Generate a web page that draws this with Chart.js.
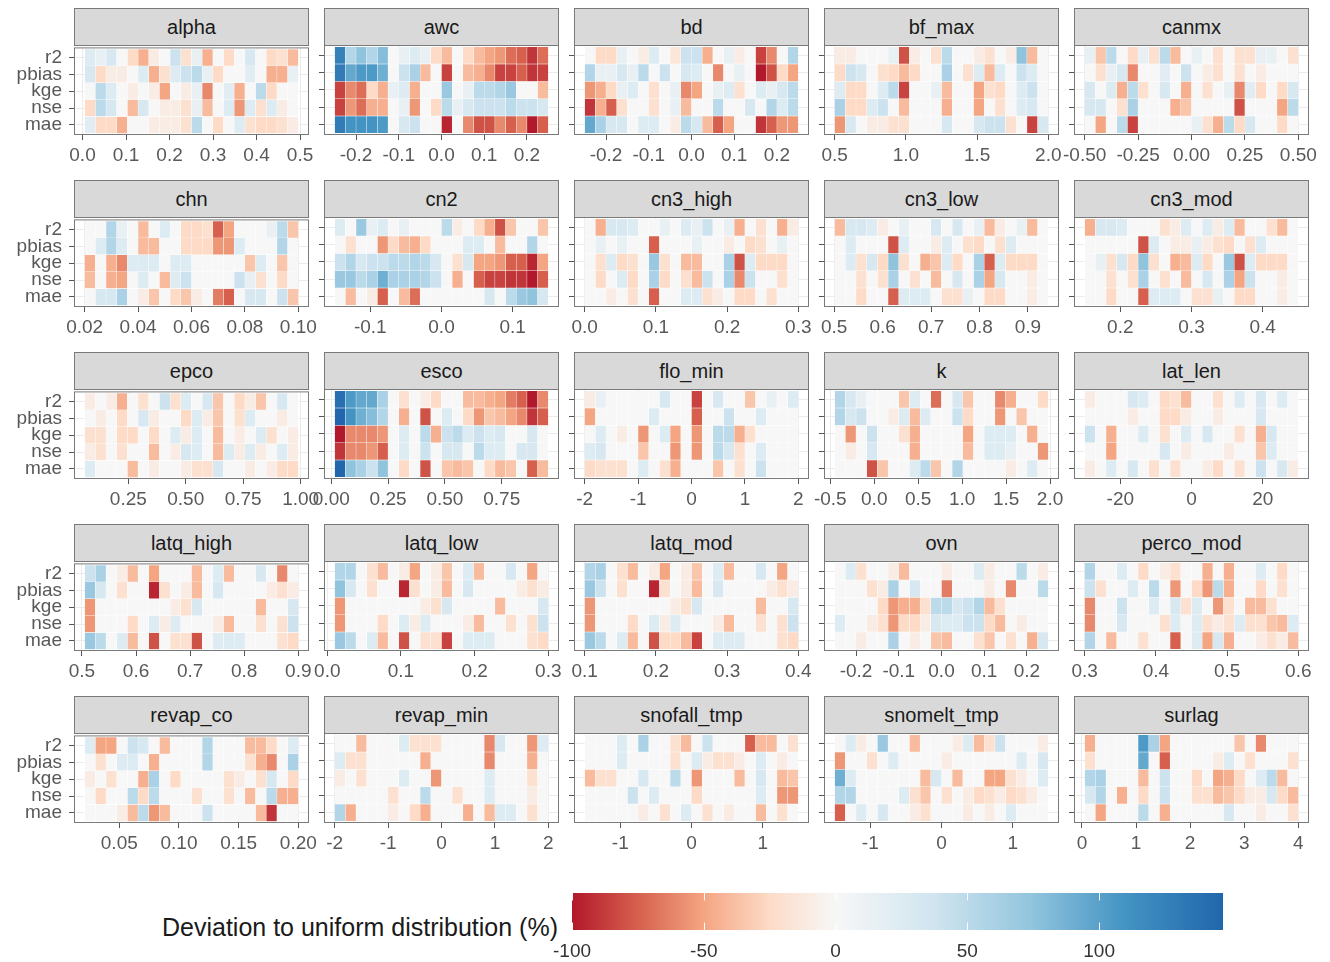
<!DOCTYPE html>
<html>
<head>
<meta charset="utf-8">
<script src="https://cdn.jsdelivr.net/npm/chart.js@4.4.1/dist/chart.umd.min.js"></script>
<style>
  body { margin: 0; background: #fff; }
  #page { position: relative; width: 1330px; height: 962px; font-family: "Liberation Sans", Arial, sans-serif; }
  .strip { position: absolute; box-sizing: border-box; background: #D9D9D9; border: 1px solid #7a7a7a;
           color: #1a1a1a; font-size: 20px; text-align: center; }
  .panel { position: absolute; }
  #legend-title { position: absolute; left: 0; width: 558px; top: 912px; text-align: right;
                  font-size: 25px; line-height: 30px; color: #1a1a1a; }
</style>
</head>
<body>
<div id="page"><div id="legend-title">Deviation to uniform distribution (%)</div></div>
<script>
const metrics = ['r2', 'pbias', 'kge', 'nse', 'mae'];
const params = ['alpha', 'awc', 'bd', 'bf_max', 'canmx', 'chn', 'cn2', 'cn3_high', 'cn3_low', 'cn3_mod',
  'epco', 'esco', 'flo_min', 'k', 'lat_len', 'latq_high', 'latq_low', 'latq_mod', 'ovn', 'perco_mod',
  'revap_co', 'revap_min', 'snofall_tmp', 'snomelt_tmp', 'surlag'];

// sampled range of each parameter (outer edges of the 20 bins)
const binRange = [[0.005, 0.496], [-0.25, 0.25], [-0.25, 0.25], [0.5, 2.0], [-0.5, 0.5],
  [0.02, 0.1], [-0.15, 0.15], [0, 0.3], [0.501, 0.942], [0.15, 0.45],
  [0.06, 0.99], [0.015, 0.955], [-2, 2], [-0.45, 1.98], [-30, 30],
  [0.505, 0.9], [0.01, 0.3], [0.1, 0.4], [-0.25, 0.25], [0.3, 0.6],
  [0.021, 0.2], [-2, 2], [-1.5, 1.5], [-1.5, 1.5], [0.05, 4]];

const tickLabels = [
  ['0.0', '0.1', '0.2', '0.3', '0.4', '0.5'], ['-0.2', '-0.1', '0.0', '0.1', '0.2'], ['-0.2', '-0.1', '0.0', '0.1', '0.2'],
  ['0.5', '1.0', '1.5', '2.0'], ['-0.50', '-0.25', '0.00', '0.25', '0.50'],
  ['0.02', '0.04', '0.06', '0.08', '0.10'], ['-0.1', '0.0', '0.1'], ['0.0', '0.1', '0.2', '0.3'],
  ['0.5', '0.6', '0.7', '0.8', '0.9'], ['0.2', '0.3', '0.4'],
  ['0.25', '0.50', '0.75', '1.00'], ['0.00', '0.25', '0.50', '0.75'], ['-2', '-1', '0', '1', '2'],
  ['-0.5', '0.0', '0.5', '1.0', '1.5', '2.0'], ['-20', '0', '20'],
  ['0.5', '0.6', '0.7', '0.8', '0.9'], ['0.0', '0.1', '0.2', '0.3'], ['0.1', '0.2', '0.3', '0.4'],
  ['-0.2', '-0.1', '0.0', '0.1', '0.2'], ['0.3', '0.4', '0.5', '0.6'],
  ['0.05', '0.10', '0.15', '0.20'], ['-2', '-1', '0', '1', '2'], ['-1', '0', '1'], ['-1', '0', '1'],
  ['0', '1', '2', '3', '4']];

const legendTicks = ['-100', '-50', '0', '50', '100'];
const fillLimits = [-100, 147];

// deviation to uniform distribution (%), rows r2, pbias, kge, nse, mae, 20 bins each
const alpha = [
  [25, 15, 30, 0, -25, -45, -10, 0, 40, -20, 15, -45, 0, -25, 0, 30, 0, -25, -20, -40],
  [30, -25, -10, -10, 0, 25, -45, -20, 25, 40, 50, 15, -25, 0, 0, 20, 0, -45, -45, 15],
  [0, 50, 25, 0, -10, 0, -10, -50, 0, -10, 15, -60, 0, 20, -45, 0, 50, -25, 0, 0],
  [-25, 50, 30, 0, -40, 30, 0, -10, -10, -20, 15, -40, 0, 25, -55, 25, -20, 25, -10, 0],
  [20, -25, -25, -45, 0, 0, -10, -10, -10, -20, 50, 0, -25, 0, 25, -20, -25, -25, -20, -10]];
const awc = [
  [125, 55, 75, 55, 80, 0, 15, 25, 15, -25, -40, 0, -25, -40, -50, -55, -70, -75, -90, -70],
  [130, 95, 105, 105, 90, 0, 40, 60, -40, 0, -85, 0, -40, -45, -60, -85, -85, -75, -90, -85],
  [-85, -60, -70, -25, -45, 15, 25, -45, 0, 0, 70, 0, 15, 50, 50, 55, 70, 0, 0, -40],
  [-85, -55, -70, -45, -45, 0, 15, -55, 0, -25, 50, 15, 30, 40, 40, 40, 50, 40, 40, 30],
  [130, 110, 110, 110, 105, 0, 30, 40, 0, 0, -95, 0, -60, -80, -80, -60, -75, -60, -100, -75]];
const bd = [
  [0, -25, -25, 15, 0, -10, 25, 0, -15, 40, 40, -45, 0, 15, -10, 0, -85, -60, 0, 55],
  [55, 15, 15, 30, 15, 50, 0, 40, 0, 30, 25, 0, -60, 0, 15, 0, -100, -80, -25, -50],
  [-55, -45, -25, 15, 25, 0, -20, 0, 15, -60, -50, 0, 15, 25, -20, 0, 25, 15, 30, 50],
  [-90, -45, -75, -20, 0, 0, -20, 0, 15, -40, 0, 0, 50, 0, 0, 30, 0, 55, 25, 50],
  [95, 60, 30, 30, 0, 25, 25, 0, -10, 50, 30, -40, -75, -50, 0, 0, -90, -75, -55, -55]];
const bf_max = [
  [-10, -10, 0, 0, 0, 15, -80, -10, 0, -20, 50, 0, 0, -10, -20, 0, -10, 75, -40, 0],
  [-25, 40, 30, 0, -20, -25, -40, -25, 0, 0, 60, 0, -20, 25, -40, 25, 0, 40, 25, 0],
  [25, -25, -25, 0, 25, 50, -85, 0, 0, 15, -40, 0, 0, -50, -20, -25, 0, 25, 40, 0],
  [60, -25, -25, 25, 40, 0, -40, 0, 0, 0, -45, 0, 0, -50, 0, -20, 0, 25, 30, 0],
  [-55, 30, 0, -10, -10, -20, -20, 0, 0, 0, 30, 0, 0, 30, 40, 40, -20, 0, -85, 30]];
const canmx = [
  [15, -35, 50, 0, -25, 15, -20, 50, -40, 0, 15, 0, -20, 0, -20, -20, 15, 15, 0, -20],
  [0, -20, 15, 30, -60, 0, 0, 20, 0, 40, 0, -10, -20, 0, -20, 0, -10, 0, 0, 0],
  [30, 0, 25, -45, 50, -20, 0, 30, 0, -45, 0, -20, 0, 15, -60, 20, -25, 0, -25, 30],
  [30, 30, 0, -20, 60, 0, 0, 0, -45, -35, 0, 0, 0, 0, -80, 0, 0, 0, -50, 50],
  [0, -50, 0, 50, -85, 0, 0, 0, 0, 0, 15, -20, -45, 50, -25, 30, 0, 0, -25, 0]];
const chn = [
  [0, 0, 55, 15, 0, -40, 0, 25, 0, -25, -25, -20, -75, -50, 0, 0, 0, 15, 50, -35],
  [0, 25, 55, 25, 0, -40, -40, 0, 0, -25, -25, -25, -55, -55, 25, 0, 0, 0, 55, 0],
  [-45, 0, -45, -60, 25, 25, 25, 0, 25, 25, 0, 0, 0, 0, 0, -35, 25, 0, -35, 0],
  [-40, 0, -45, -50, 0, 25, 0, -40, 25, 40, 0, 0, 0, 0, 40, 15, -20, 0, -25, 0],
  [0, 30, 30, 60, 0, -10, -35, 0, -25, -35, -10, 0, -65, -75, 0, 30, 30, 0, 40, -35]];
const cn2 = [
  [25, 0, 70, 15, 25, 0, 15, 0, 0, 0, 50, -10, 0, -25, -45, -80, -35, 0, 0, -35],
  [0, -20, 0, 0, -55, -25, -40, -45, -25, 0, 0, 0, 25, 25, 0, -40, 0, 0, 55, 0],
  [40, 55, 30, 40, 40, 50, 50, 55, 50, 30, 0, -20, 30, -50, -50, -55, -75, -75, -95, -50],
  [70, 70, 50, 60, 90, 60, 60, 60, 55, 40, 0, -45, 0, -75, -85, -85, -90, -90, -100, -75],
  [0, -40, 0, -10, -75, 0, -40, -70, 0, 0, 0, 0, 0, 0, 30, 0, 50, 70, 75, 30]];
const cn3_high = [
  [0, -45, 30, 30, 25, 0, 0, 15, 0, 25, 15, 40, 0, 15, -45, 0, -20, 0, -45, -10],
  [0, 15, 0, 15, 0, 0, -75, 0, 0, 0, 15, 0, 0, -10, 0, -25, -20, 0, 15, 0],
  [0, -20, 25, -25, -20, 0, 70, -20, 0, -40, -40, 0, 0, 60, -80, 25, -25, -25, -25, 0],
  [0, -25, 0, 25, -25, 0, 60, -25, 0, -20, -40, 40, 0, 60, -60, 40, 0, 0, -20, 0],
  [0, 0, -10, 0, -20, 0, -75, 0, 0, 25, 25, -20, -10, 0, -25, -25, 0, -20, 0, 0]];
const cn3_low = [
  [-40, 30, 30, 25, -10, 0, 15, 0, 0, 30, 0, 30, 0, 15, -40, -10, 0, 15, -40, 0],
  [0, 25, 0, 0, 0, -80, 25, 0, 0, -10, 25, 0, -20, -25, 0, -20, 25, 0, 0, 0],
  [0, 25, -20, 30, -25, 75, -20, 0, -45, -35, 25, -25, 0, 60, -75, 25, -25, -25, -25, 0],
  [0, 0, -20, 0, -20, 60, 0, -20, 0, -40, 0, 30, 0, 60, -50, 30, 0, 0, -10, 0],
  [0, 0, -25, 0, 0, -75, 25, 25, 25, 0, -20, -20, 15, 0, -25, -25, 0, 0, -10, 0]];
const cn3_mod = [
  [-45, 30, 30, 25, 0, 0, 0, -20, -10, 25, 0, 25, -10, 25, -40, 0, 0, -20, -40, 0],
  [0, 0, 0, 0, 0, -80, 25, 0, -10, -10, 15, -10, -20, -25, 0, -20, 25, 0, 0, 0],
  [0, 15, -20, 30, -25, 75, -20, 0, -45, -40, 25, -25, 0, 70, -80, 25, -25, -25, -25, 0],
  [0, 0, -20, 0, -20, 60, 0, -20, 0, -40, 0, 30, 0, 60, -50, 40, 0, 0, -10, 0],
  [0, 0, -25, 0, 0, -75, 25, 25, 25, 0, -20, -20, 15, 0, -25, -25, 0, 0, -10, 0]];
const epco = [
  [-10, 0, -10, -45, 0, -20, 0, 40, -20, 25, 0, 30, -35, 0, -25, -10, -35, 0, 30, 0],
  [0, -10, 0, -25, 0, 30, -10, 0, 0, -25, 25, -10, -35, 0, -20, 25, 0, 0, -10, 0],
  [-20, -20, 0, -25, -25, 0, -25, 0, 25, -10, 25, 0, -40, 0, -10, 0, 25, -20, 0, -10],
  [-10, -20, 0, -20, 0, 0, -40, 0, -10, 30, 25, 0, -40, 25, -10, 25, -10, 0, 25, -10],
  [25, 0, 0, 0, -40, 0, -10, 0, 0, -10, -20, -20, 30, 0, 0, -10, 0, -10, -25, -25]];
const esco = [
  [140, 105, 95, 95, 60, 0, -20, 0, -10, -25, 0, 0, -40, -40, -45, -50, -65, -75, -100, -60],
  [147, 110, 90, 80, 55, 0, -45, 0, -80, 0, 25, 0, -25, -55, -35, -40, -50, -60, -90, -75],
  [-100, -60, -60, -60, -55, 0, 25, 0, 50, -45, 40, 50, 25, 40, 25, 30, 0, 0, 30, 0],
  [-90, -60, -60, -55, -75, 0, 25, 0, 40, 0, 30, 30, 0, 50, 25, 25, 0, 30, 30, 0],
  [147, 75, 60, 40, 75, 0, -25, 0, -80, 0, -35, -40, -35, 0, -25, -40, -35, 0, -75, -40]];
const flo_min = [
  [-10, 15, 0, 0, 0, 0, 0, 30, 0, 0, -85, 0, 30, 0, 0, -35, 0, 15, 0, 25],
  [-50, 0, 0, 0, 0, 0, 25, 0, 0, 0, -75, 0, 0, 40, 0, 0, 25, 0, 0, 0],
  [0, 25, 0, -10, 0, -55, 0, 25, -50, 0, -55, 0, 50, 50, -45, -20, 0, 0, 0, 0],
  [25, 30, 0, 0, 0, -35, 0, 0, -55, 0, -55, 0, 50, 30, -20, 0, 25, 0, 0, 0],
  [-25, -20, -20, -20, 0, 25, 0, -20, -45, 0, 0, 0, -35, 0, -20, 0, 40, 0, 0, 0]];
const k = [
  [55, 30, 15, 0, 0, 0, -35, 25, 0, -70, 0, 30, -35, 0, 0, -60, -45, 0, 0, -25],
  [55, 30, 40, 0, 0, -10, 25, -40, 25, 0, 0, 40, -25, 0, 0, -55, 0, -35, 0, 0],
  [0, -55, 0, 40, 0, 0, -20, -45, 0, 0, 0, 0, -50, 0, 25, 25, 25, 0, -45, 0],
  [0, -10, 0, 30, 0, 0, 0, -45, 0, 0, 0, 0, -40, 0, 25, 25, 15, 0, 0, -55],
  [0, 0, 0, -80, -35, 0, 0, 25, 50, -35, 0, 55, 0, 0, 0, 0, -10, 0, 25, 0]];
const lat_len = [
  [-10, 0, 0, 0, 30, 25, 0, -25, -20, -40, 0, 0, -20, 0, 25, 0, 30, 0, 25, 0],
  [0, 0, 0, 0, -10, 0, 0, -25, -25, -10, 0, 0, -10, 0, 0, 0, 30, 0, 0, 0],
  [40, 0, -45, 0, 0, 25, 0, -20, 0, 25, 0, 30, 0, 0, -20, 0, -45, 30, 0, 0],
  [0, 0, -50, 0, 0, 0, 0, 30, 0, -10, 0, 0, 0, -10, 0, 0, -35, 25, 0, 0],
  [-10, 0, 25, 0, 30, 0, -20, 0, -20, 0, 0, -10, -25, 0, -20, 0, 40, 0, 30, -10]];
const latq_high = [
  [40, 60, 0, -10, -40, 0, -50, 0, 0, 0, -40, 0, 25, -40, 0, 0, 30, 0, -60, 0],
  [70, 30, 0, -20, 0, 0, -95, -20, 0, -10, -40, 0, 30, 0, 0, 0, 0, -10, -20, -10],
  [-55, 0, 0, 0, 0, 0, 0, 0, -10, -20, 30, 0, 0, 0, 0, 0, -40, 0, 0, 30],
  [-55, 0, 0, 0, -25, 0, 25, -10, 25, 0, 0, 0, -10, -40, 0, 0, -20, 0, -20, 40],
  [70, 50, 0, 25, -40, 0, -80, 0, -20, -20, -80, 0, 25, 25, 25, 0, 0, 0, -20, -25]];
const latq_low = [
  [55, 55, 0, -20, -40, 0, -10, -50, 0, -10, -35, 0, 25, -40, 0, 0, 30, 0, -50, 0],
  [75, 30, 0, -20, 0, 0, -95, -20, 0, -10, -40, 0, 30, 0, 0, 0, 0, -10, -20, -10],
  [-55, 0, 0, 0, 0, 0, 0, 0, -10, -20, 30, 0, 0, 0, 0, -40, 0, 0, 0, 30],
  [-55, 0, 0, 0, -25, 0, 25, -10, 25, 0, 0, 0, -10, -40, 0, 0, -20, 0, -20, 40],
  [70, 50, 0, 25, -40, 0, -80, 0, -20, -20, -85, 0, 25, 25, 25, 0, 0, 0, -20, -25]];
const latq_mod = [
  [55, 60, 0, -20, -40, 0, -10, -50, 0, -10, -35, 0, 25, -40, 0, 0, 30, 0, -50, 0],
  [70, 40, 0, -20, 0, 0, -95, -20, 0, -10, -40, 0, 30, 0, 0, 0, 0, -10, -20, -10],
  [-55, 0, 0, 0, 0, 0, 0, 0, -10, -20, 30, 0, 0, 0, 0, 0, -40, 0, 0, 30],
  [-55, 0, 0, 0, -25, 0, 25, -10, 25, 0, 0, 0, -10, -40, 0, 0, -20, 0, -20, 40],
  [70, 50, 0, 25, -40, 0, -80, -25, -25, -40, -85, 0, 25, 25, 25, 0, 0, 0, -20, -25]];
const ovn = [
  [0, 25, -20, 0, 0, -10, -40, 0, 0, 0, -10, 0, 0, 25, -10, 0, 0, 50, 0, -10],
  [0, 0, 0, -20, -10, 60, 0, 30, 0, 0, -65, 0, 0, 0, -10, 0, -60, 0, 0, 50],
  [0, 0, 0, 0, -25, -55, -45, -45, -20, 50, 50, 30, 40, 55, -40, -20, 0, 0, 0, 0],
  [25, 0, 0, -10, -20, -55, -25, -25, -10, 30, 25, 25, 40, 40, -25, -40, 0, -10, 0, 0],
  [0, 0, -10, 0, 0, 60, 0, -10, 0, -35, -40, 0, 0, -20, -35, 0, -20, 0, -45, 30]];
const perco_mod = [
  [55, 0, 0, 25, 0, -25, 0, -10, -20, 0, 0, -45, 0, -45, 0, 0, 25, 0, -25, 0],
  [40, -20, 0, 0, 25, 0, 50, 0, -55, 0, -25, -55, 50, -45, 0, 0, -25, 0, -20, 0],
  [-60, 0, 0, 40, 0, 0, 25, 0, 30, -20, 25, 0, -55, -20, 0, -40, -40, -20, 0, 0],
  [-60, 0, 0, 30, 0, 0, 0, -20, 25, 0, 25, -20, -10, -20, 25, -20, -20, -35, -40, 25],
  [55, 0, -40, 0, 0, -20, 0, 0, -75, 0, 25, -50, 30, -45, 0, 0, -10, -20, -10, -40]];
const revap_co = [
  [25, -50, -50, 0, 40, 30, 0, -40, 0, 0, 0, 55, 0, 0, 0, -40, -40, -25, 0, 25],
  [0, -20, 0, 25, 25, 0, -45, 0, 0, 0, 0, 55, 0, 0, 0, -20, -45, -60, 0, 60],
  [-10, 0, -20, 0, 0, -45, 60, 0, -25, 0, 0, 0, 0, -20, -10, 0, -20, 30, 0, -25],
  [0, -25, 0, 0, 50, -25, 50, 0, 0, 0, -20, 0, 0, -20, 0, -40, 0, 50, -45, -45],
  [0, 0, 0, -10, -40, 50, -55, -40, 0, 0, 0, 40, 0, 0, 0, 0, -40, -90, 0, 0]];
const revap_min = [
  [0, 0, -40, 0, 0, 0, 25, -20, -20, -20, 0, 0, 0, 0, -60, 30, 0, 0, -55, 25],
  [25, -20, -20, 0, 0, 0, 0, 0, -45, 0, 0, 0, 0, 0, -60, 0, 0, 0, -45, 0],
  [-10, 0, -20, 0, 0, 0, 25, 0, 0, -55, 0, 0, 0, 0, 25, 0, 0, 0, -20, 0],
  [0, 0, 0, 0, 0, -20, 0, 0, 50, 0, 0, -20, 0, 0, 25, 0, 0, 0, -10, 0],
  [55, -45, 0, 0, 0, -10, 0, -25, -45, 0, 0, 0, -45, 0, -40, 25, 25, 0, -20, 0]];
const snofall_tmp = [
  [0, 0, 0, 25, 0, 60, 0, 0, -20, -40, 0, 40, 0, 0, 0, -75, -40, -40, 0, -20],
  [0, 0, 0, 25, 0, 0, 0, 0, -20, 0, 25, -10, -20, -20, -10, 0, 25, 0, -10, 0],
  [-40, -20, -20, 0, 0, 30, 0, 0, 50, 0, -55, 0, 0, 0, -40, 0, 30, 0, -40, -35],
  [0, 0, 0, 0, 40, 0, 25, 0, 0, 0, -25, 0, 0, 0, 0, 0, 25, 0, -55, -55],
  [0, 0, 0, 0, 0, -10, 0, -20, 0, 25, 0, -20, 0, -10, 0, 0, -40, 0, -20, 0]];
const snomelt_tmp = [
  [0, 25, -10, 0, 70, 0, 0, -40, 0, 0, 0, -10, 25, -40, -20, 40, 0, 0, 0, -10],
  [-55, 0, 0, -20, 0, 25, 0, 0, 0, 0, -10, 0, 0, 0, 0, 0, 0, 25, 0, 30],
  [90, 25, 0, 0, 0, 0, 0, 0, -40, 30, 0, -40, 0, 0, -50, -50, -20, -10, 0, 25],
  [55, 55, 0, 0, 0, 0, 25, -20, -35, 0, -20, 0, -10, -25, -20, -10, -25, -20, -10, 0],
  [-75, 0, 25, 0, 30, 0, 0, -10, -20, 0, 0, 0, -10, 0, -10, 0, 25, 0, 0, 0]];
const surlag = [
  [-45, 0, 0, 0, 0, 105, 60, -50, 0, 0, 0, 0, 0, 0, -35, 0, -60, 0, 0, 0],
  [-20, 0, 0, 0, 0, 95, 0, -75, 0, 0, 0, 0, -10, 25, 0, -20, 0, 0, 0, -20],
  [55, 60, 0, 0, 0, -40, 0, 40, 0, 0, -25, 0, -50, -45, -25, 0, 25, 50, -40, 0],
  [30, 55, 0, -45, 0, -25, 0, 40, 0, 0, -20, -20, -40, -35, -25, -10, -10, 30, -25, -40],
  [0, -50, 0, 0, 0, 50, 0, -45, 0, 0, 0, 0, 0, 30, 0, 0, -10, 0, 0, -20]];

const deviation = { alpha, awc, bd, bf_max, canmx, chn, cn2, cn3_high, cn3_low, cn3_mod, epco, esco,
  flo_min, k, lat_len, latq_high, latq_low, latq_mod, ovn, perco_mod, revap_co, revap_min,
  snofall_tmp, snomelt_tmp, surlag };

// RdBu colour scale, white at 0
const colorStops = [[-100, '#B2182B'], [-75, '#D6604D'], [-50, '#F4A582'], [-25, '#FDDBC7'], [0, '#F7F7F7'],
  [37, '#D1E5F0'], [74, '#92C5DE'], [110, '#4393C3'], [147, '#2166AC']];

function hexRgb(h) {
  return [1, 3, 5].map(i => parseInt(h.slice(i, i + 2), 16));
}
function fillColor(v) {
  v = Math.max(fillLimits[0], Math.min(fillLimits[1], v));
  for (let i = 1; i < colorStops.length; i++) {
    const [v1, c1] = colorStops[i];
    if (v <= v1) {
      const [v0, c0] = colorStops[i - 1];
      const t = (v - v0) / (v1 - v0);
      const a = hexRgb(c0), b = hexRgb(c1);
      return 'rgb(' + a.map((x, j) => Math.round(x + (b[j] - x) * t)).join(',') + ')';
    }
  }
  return colorStops[colorStops.length - 1][1];
}

const FONT = '"Liberation Sans", Arial, sans-serif';
Chart.defaults.font.family = FONT;
Chart.defaults.animation = false;

const colLeft = [74, 324, 574, 824, 1074];
const PANEL_W = 235, PANEL_H = 90, ROW_STEP = 172, FIRST_TOP = 45, STRIP_H = 38;
const PAD_TOP = 16, PAD_R = 25, X_H = 34;
const TEXT_GREY = '#595959';
const page = document.getElementById('page');

const panelBorder = {
  id: 'panelBorder',
  afterDatasetsDraw(chart) {
    const { ctx, chartArea: a } = chart;
    ctx.save();
    ctx.strokeStyle = '#7a7a7a';
    ctx.lineWidth = 1;
    ctx.strokeRect(a.left + 0.5, a.top + 0.5, a.width - 1, a.height - 1);
    ctx.restore();
  }
};

params.forEach((name, p) => {
  const col = p % 5, row = Math.floor(p / 5);
  const left = colLeft[col], top = FIRST_TOP + row * ROW_STEP;

  const strip = document.createElement('div');
  strip.className = 'strip';
  strip.textContent = name;
  Object.assign(strip.style, { left: left + 'px', top: (top - STRIP_H + 1) + 'px', width: PANEL_W + 'px',
    height: STRIP_H + 'px', lineHeight: (STRIP_H - 2) + 'px' });
  page.appendChild(strip);

  const yW = col === 0 ? 74 : 30;
  const box = document.createElement('div');
  box.className = 'panel';
  Object.assign(box.style, { left: (left - yW) + 'px', top: (top - PAD_TOP) + 'px',
    width: (yW + PANEL_W + PAD_R) + 'px', height: (PAD_TOP + PANEL_H + X_H) + 'px' });
  const canvas = document.createElement('canvas');
  box.appendChild(canvas);
  page.appendChild(box);

  const vals = deviation[name];
  const [lo, hi] = binRange[p];
  const w = (hi - lo) / vals[0].length;
  const pad = (hi - lo) * 0.05;
  const ticks = tickLabels[p].map(Number);

  new Chart(canvas, {
    type: 'bar',
    data: {
      datasets: metrics.map((m, r) => ({
        label: m,
        data: vals[r].map((v, i) => ({ x: lo + (i + 0.5) * w,
          y: [metrics.length - r - 0.5, metrics.length - r + 0.5] })),
        backgroundColor: vals[r].map(fillColor),
        borderColor: 'rgba(255,255,255,0.45)',
        borderWidth: 0.5,
        borderSkipped: false,
        grouped: false,
        categoryPercentage: 1,
        barPercentage: 1
      }))
    },
    options: {
      responsive: true,
      maintainAspectRatio: false,
      layout: { padding: { top: PAD_TOP, right: PAD_R, left: 0, bottom: 0 } },
      plugins: { legend: { display: false }, tooltip: { enabled: false } },
      scales: {
        x: {
          type: 'linear', min: lo - pad, max: hi + pad, offset: false,
          afterBuildTicks: s => { s.ticks = ticks.map(v => ({ value: v })); },
          afterFit: s => { s.height = X_H; },
          ticks: { autoSkip: false, maxRotation: 0, padding: 4, color: TEXT_GREY, font: { size: 19 },
            callback: (v, i) => tickLabels[p][i] },
          grid: { color: '#ebebeb', tickColor: '#555', tickLength: 5, offset: false },
          border: { display: false }
        },
        y: {
          type: 'linear', min: 0.4, max: metrics.length + 0.6,
          afterBuildTicks: s => { s.ticks = metrics.map((m, r) => ({ value: metrics.length - r })); },
          afterFit: s => { s.width = yW; },
          ticks: { display: col === 0, autoSkip: false, padding: 7, color: TEXT_GREY, font: { size: 19 },
            callback: v => metrics[metrics.length - v] },
          grid: { color: '#ebebeb', tickColor: '#555', tickLength: 5 },
          border: { display: false }
        }
      }
    },
    plugins: [panelBorder]
  });
});

// colour bar legend
const colorbar = {
  id: 'colorbar',
  beforeDatasetsDraw(chart) {
    const { ctx, chartArea: a, scales: { x } } = chart;
    const g = ctx.createLinearGradient(a.left, 0, a.right, 0);
    colorStops.forEach(([v, c]) => g.addColorStop((x.getPixelForValue(v) - a.left) / a.width, c));
    ctx.save();
    ctx.fillStyle = g;
    ctx.fillRect(a.left, a.top, a.width, a.height);
    ctx.strokeStyle = '#fff';
    ctx.lineWidth = 1;
    x.ticks.forEach(t => {
      const px = Math.round(x.getPixelForValue(t.value)) + 0.5;
      ctx.beginPath();
      ctx.moveTo(px, a.top); ctx.lineTo(px, a.top + a.height * 0.2);
      ctx.moveTo(px, a.bottom - a.height * 0.2); ctx.lineTo(px, a.bottom);
      ctx.stroke();
    });
    ctx.restore();
  }
};

const legBox = document.createElement('div');
legBox.className = 'panel';
Object.assign(legBox.style, { left: '532px', top: '889px', width: '731px', height: '73px' });
const legCanvas = document.createElement('canvas');
legBox.appendChild(legCanvas);
page.appendChild(legBox);

new Chart(legCanvas, {
  type: 'scatter',
  data: { datasets: [] },
  options: {
    responsive: true,
    maintainAspectRatio: false,
    layout: { padding: { left: 40, right: 40, top: 4, bottom: 0 } },
    plugins: { legend: { display: false }, tooltip: { enabled: false } },
    scales: {
      x: {
        type: 'linear', min: fillLimits[0], max: fillLimits[1],
        afterBuildTicks: s => { s.ticks = legendTicks.map(t => ({ value: Number(t) })); },
        afterFit: s => { s.height = 32; },
        grid: { display: false },
        border: { display: false },
        ticks: { autoSkip: false, maxRotation: 0, padding: 2, color: '#333', font: { size: 19 },
          callback: (v, i) => legendTicks[i] }
      },
      y: { display: false }
    }
  },
  plugins: [colorbar]
});
</script>
</body>
</html>
